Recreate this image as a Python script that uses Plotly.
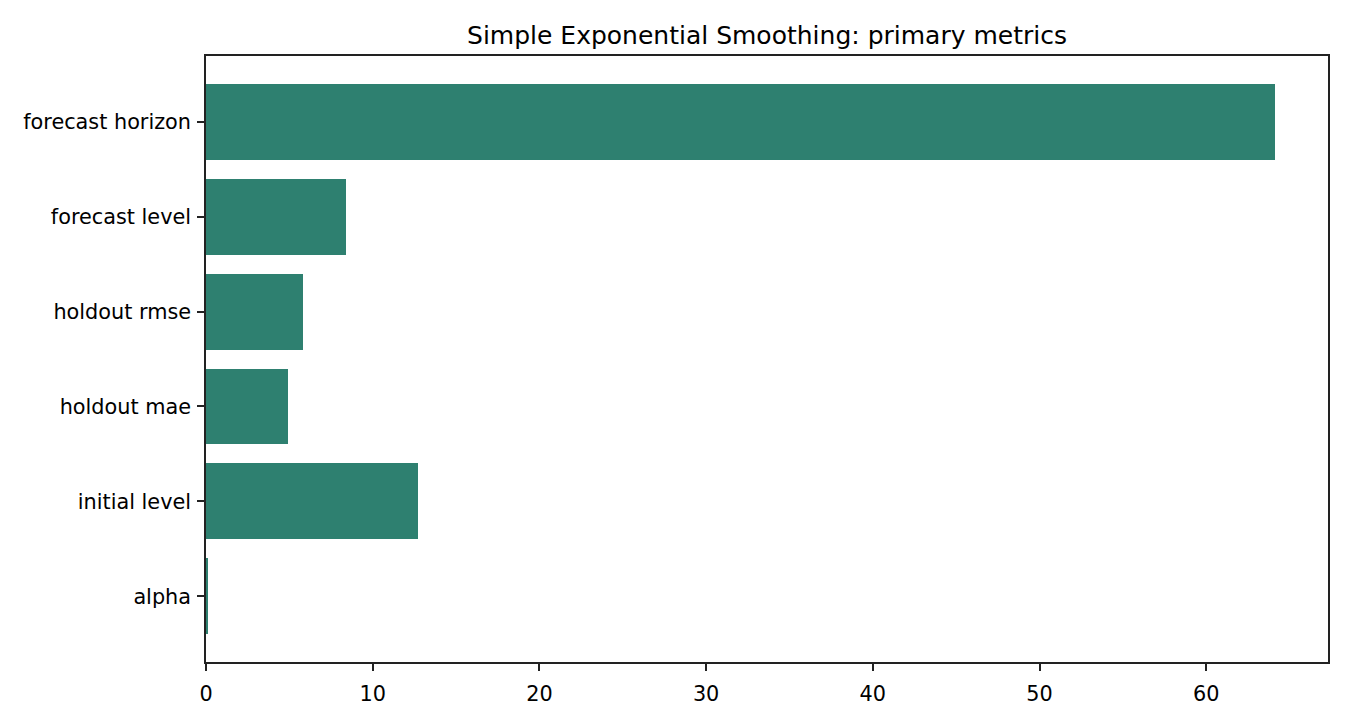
import plotly.graph_objects as go

# metric names, bottom to top as drawn
metrics = ["alpha", "initial level", "holdout mae", "holdout rmse", "forecast level", "forecast horizon"]
values = [0.1, 12.73, 4.89, 5.79, 8.37, 64.1]
x_ticks = [0, 10, 20, 30, 40, 50, 60]

bar_color = "#2e8070"
ink = "#000000"
spine = "#222222"

fig = go.Figure()
fig.add_trace(go.Bar(
    x=values,
    y=list(range(len(metrics))),
    orientation="h",
    width=0.8,
    marker=dict(color=bar_color, line=dict(width=0)),
    hovertemplate="%{text}: %{x}<extra></extra>",
    text=metrics,
    textposition="none",
))

fig.update_layout(
    width=1350, height=720,
    margin=dict(l=206, r=22, t=56, b=58),
    paper_bgcolor="white", plot_bgcolor="white",
    font=dict(family="DejaVu Sans", color=ink, size=20.8),
    title=dict(text="Simple Exponential Smoothing: primary metrics",
               x=0.5, xanchor="center", xref="paper",
               y=1 - 35 / 720, yanchor="middle",
               font=dict(size=25, color=ink)),
    showlegend=False,
    bargap=0,
)

fig.update_xaxes(
    range=[0, max(values) * 1.05],
    tickvals=x_ticks,
    showgrid=False, zeroline=False,
    showline=True, linecolor=spine, linewidth=1.6, mirror=True,
    ticks="outside", ticklen=7, tickwidth=1.6, tickcolor=spine,
    ticklabelstandoff=5,
    tickfont=dict(size=20.8),
)
fig.update_yaxes(
    range=[-0.69, len(metrics) - 1 + 0.69],
    tickvals=list(range(len(metrics))), ticktext=metrics,
    showgrid=False, zeroline=False,
    showline=True, linecolor=spine, linewidth=1.6, mirror=True,
    ticks="outside", ticklen=7, tickwidth=1.6, tickcolor=spine,
    ticklabelstandoff=2,
    tickfont=dict(size=20.8),
)

fig.write_html("out.html", config={"displayModeBar": False},
               post_script="document.body.style.margin='0';")
